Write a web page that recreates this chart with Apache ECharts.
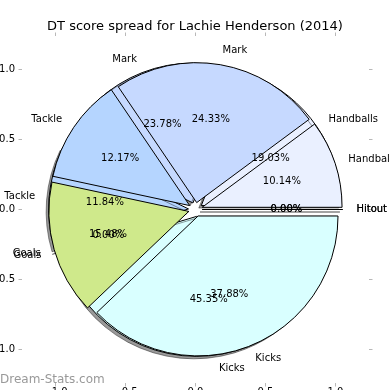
<!DOCTYPE html>
<html><head><meta charset="utf-8">
<script src="https://cdn.jsdelivr.net/npm/echarts@6/dist/echarts.min.js"></script>
<style>html,body{margin:0;padding:0;background:#fff}#c{width:390px;height:390px}</style>
</head><body><div id="c"></div>
<script>
const categories = ['Hitout', 'Handballs', 'Mark', 'Tackle', 'Goals', 'Kicks'];
const colors = ['#dcdcdc', '#eaf0ff', '#c6d9ff', '#b5d5ff', '#cfe98b', '#d9ffff'];
const pieA = [0, 10.14, 24.33, 12.17, 15.48, 37.88];
const pieB = [0, 19.03, 23.78, 11.84, 0, 45.35];
const axisTicks = [-1, -0.5, 0, 0.5, 1];
const axisMin = -1.24, axisMax = 1.24;
const titleText = 'DT score spread for Lachie Henderson (2014)';
const watermark = 'Dream-Stats.com';

const FONT = 'DejaVu Sans';
const gridLeft = 22, gridTop = 36, gridSize = 347;
const unit = gridSize / (axisMax - axisMin);
const center = [gridLeft + (0 - axisMin) * unit, gridTop + (axisMax - 0) * unit];
const R = unit * 1.0;
const explode = 0.05 * R;

const fmtTick = v => (v < 0 ? '\u2212' : '') + Math.abs(v).toFixed(1);

function mainPie(vals, z, shadow) {
  const st = { borderColor: '#000', borderWidth: 1 };
  if (shadow) Object.assign(st, { shadowColor: 'rgba(0,0,0,0.4)', shadowOffsetX: -2.5, shadowOffsetY: 2.5, shadowBlur: 0 });
  return {
    type: 'pie', center: center, radius: R, startAngle: 0, clockwise: false,
    selectedMode: 'multiple', selectedOffset: explode, avoidLabelOverlap: false,
    z: z, animation: false, percentPrecision: 2,
    labelLayout: { hideOverlap: false },
    data: categories.map((n, i) => ({ name: n, value: vals[i], selected: true, itemStyle: { color: colors[i] } })),
    itemStyle: st,
    label: { show: true, position: 'outside', formatter: '{b}', fontSize: 10, color: '#000', fontFamily: FONT, distanceToLabelLine: 0 },
    labelLine: { show: false, length: 0.1 * R, length2: 0 },
    emphasis: { disabled: true },
    select: { itemStyle: { borderColor: '#000', borderWidth: 1 }, label: { color: '#000' } }
  };
}
function pctPie(vals, z) {
  return {
    type: 'pie', center: center, radius: 2 * (0.6 * R - 3), startAngle: 0, clockwise: false,
    selectedMode: 'multiple', selectedOffset: explode, avoidLabelOverlap: false,
    z: z, animation: false, percentPrecision: 2,
    labelLayout: { hideOverlap: false },
    data: categories.map((n, i) => ({ name: n, value: vals[i], selected: true })),
    itemStyle: { color: 'rgba(0,0,0,0)', borderWidth: 0 },
    label: { show: true, position: 'inside', formatter: p => p.percent.toFixed(2) + '%', fontSize: 10, color: '#000', fontFamily: FONT },
    labelLine: { show: false },
    emphasis: { disabled: true },
    select: { itemStyle: { color: 'rgba(0,0,0,0)', borderWidth: 0 }, label: { color: '#000' } }
  };
}
function axis(pos, showLabel) {
  return {
    type: 'value', position: pos, min: axisMin, max: axisMax,
    axisLine: { show: false, onZero: false },
    splitLine: { show: false },
    axisTick: { show: true, customValues: axisTicks, length: 3.5, lineStyle: { color: '#b8b8b8', width: 1 } },
    axisLabel: { show: showLabel, customValues: axisTicks, formatter: fmtTick, fontSize: 10, color: '#000', fontFamily: FONT, margin: pos === 'left' ? 7 : 4 }
  };
}

const chart = echarts.init(document.getElementById('c'));
chart.setOption({
  animation: false,
  backgroundColor: '#fff',
  title: { text: titleText, left: 'center', top: 15, textStyle: { fontSize: 13, fontWeight: 'normal', color: '#000', fontFamily: FONT } },
  grid: { left: gridLeft, top: gridTop, width: gridSize, height: gridSize, containLabel: false, outerBoundsMode: 'none' },
  xAxis: [axis('bottom', true), axis('top', false)],
  yAxis: [axis('left', true), axis('right', false)],
  graphic: [{ type: 'text', left: 0, top: 374, style: { text: watermark, fill: '#999', font: '12px "DejaVu Sans"' } }],
  series: [mainPie(pieB, 2, true), mainPie(pieA, 3, false), pctPie(pieB, 4), pctPie(pieA, 4)]
});
</script></body></html>
